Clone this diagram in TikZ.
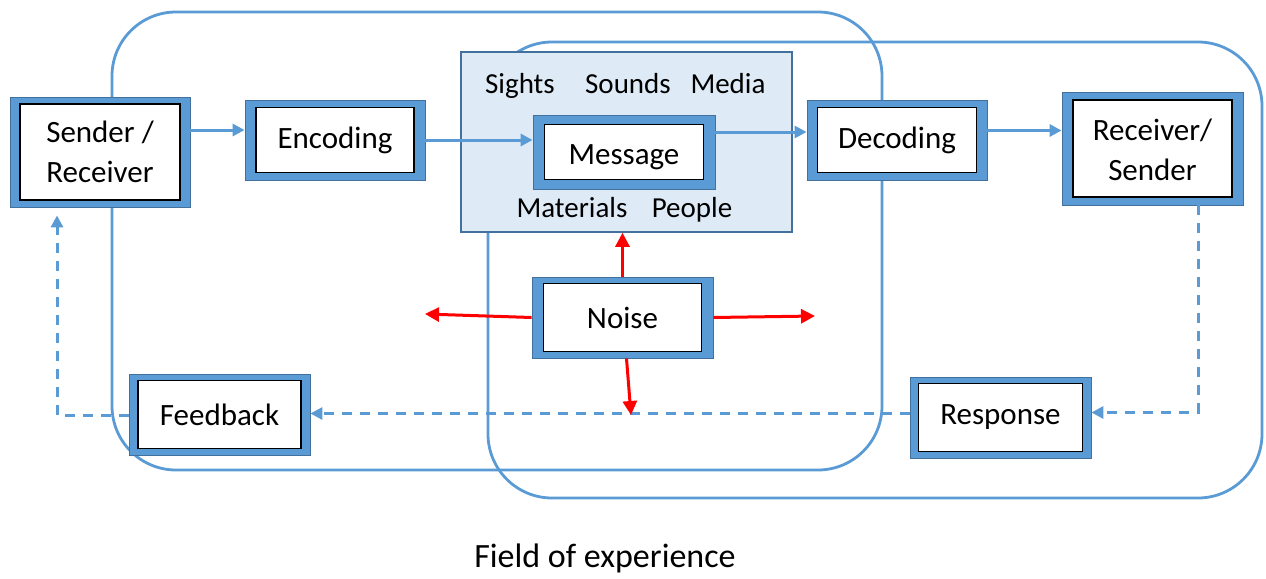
\documentclass[tikz,border=0pt]{standalone}
\usepackage{fontspec}
\setmainfont{Carlito}
\usetikzlibrary{arrows.meta,calc}
\definecolor{bblue}{HTML}{5B9BD5}
\definecolor{bedge}{HTML}{41719C}
\definecolor{lfill}{HTML}{DEEBF7}
\newcommand\dblbox[8]{%
  \node[outerbox, minimum width=#4, minimum height=#5] (#1) at (#2,#3) {};
  \node[innerbox, minimum width=#6, minimum height=#7] (#1-in) at (#2,#3) {#8};}
\begin{document}
\begin{tikzpicture}[x=0.5pt,y=-0.5pt,
  outerbox/.style={draw=bedge, line width=0.4pt, fill=bblue, inner sep=0pt},
  innerbox/.style={draw=black, line width=0.6pt, fill=white, inner sep=0pt, align=center, font=\fontsize{15.5}{20}\selectfont},
  field/.style={draw=bblue, line width=1.4pt, rounded corners=32pt},
  flow/.style={draw=bblue, line width=1.5pt, -{Triangle[length=6pt,width=6pt]}},
  fb/.style={flow, dash pattern=on 5pt off 4pt},
  noisearrow/.style={draw=red, line width=1.5pt, -{Triangle[length=7pt,width=7pt]}},
  lbl/.style={font=\fontsize{14.5}{17}\selectfont, inner sep=0pt, anchor=base}
]
\useasboundingbox (0,0) rectangle (1266,579);

% fields of experience
\draw[field] (112,12) rectangle (882,470);
\draw[field] (488,42) rectangle (1262,498);

% message area
\node[draw=bedge, fill=lfill, line width=0.8pt, minimum width=165.5pt, minimum height=90pt, inner sep=0pt] (area) at (626.5,142) {};
\node[lbl] (sights) at (520,93) {Sights};
\node[lbl] (sounds) at (628,93) {Sounds};
\node[lbl] (media) at (728,93) {Media};
\node[lbl] (mat) at (572,217) {Materials};
\node[lbl] (ppl) at (692,217) {People};

% boxes
\dblbox{send}{100}{152}{90pt}{55pt}{80pt}{48pt}{Sender /\\Receiver}
\dblbox{enc}{335}{140}{90pt}{40pt}{79pt}{32.5pt}{Encoding}
\dblbox{msg}{624}{152}{91pt}{37pt}{79.5pt}{27.5pt}{\raisebox{-2.5pt}[\height][\depth]{Message}}
\dblbox{dec}{897}{140}{90pt}{40pt}{79.5pt}{32.5pt}{Decoding}
\dblbox{recv}{1152.5}{148.5}{90.5pt}{56.5pt}{79.5pt}{48.5pt}{\raisebox{-2pt}[\height][\depth]{\begin{tabular}{@{}c@{}}Receiver/\\Sender\end{tabular}}}
\dblbox{noise}{622.5}{317.5}{90.5pt}{40.5pt}{79pt}{34pt}{Noise}
\dblbox{fbk}{219.5}{414.5}{90.5pt}{40.5pt}{81.5pt}{34pt}{Feedback}
\dblbox{resp}{1000.5}{417.5}{90.5pt}{40.5pt}{82pt}{34pt}{Response}

% solid flow
\path ([yshift=5pt]enc.west) coordinate (encin);
\draw[flow] (send.east |- encin) -- (encin);
\draw[flow] (enc.east) -- (msg.west |- enc.east);
\path ([yshift=4pt]dec.west) coordinate (decin);
\draw[flow] (msg.east |- decin) -- (decin);
\path ([yshift=9pt]recv.west) coordinate (recvin);
\draw[flow] (dec.east |- recvin) -- (recvin);

% feedback loop
\coordinate (rx) at (1198,0);
\coordinate (lx) at (57,0);
\path ([yshift=2.5pt]resp.east) coordinate (respin);
\draw[fb] (recv.south -| rx) |- (respin);
\path ([yshift=2pt]resp.west) coordinate (respout);
\draw[fb] (respout) -- (respout -| fbk.east);
\draw[fb, shorten >=4pt] ([yshift=-0.5pt]fbk.west) -| (send.south -| lx);

% noise
\draw[noisearrow] (noise.north) -- (noise.north |- area.south);
\coordinate (nl) at (425,314);
\coordinate (nr) at (815,316);
\coordinate (nd) at (631,415);
\draw[noisearrow] (noise.west) -- (nl);
\draw[noisearrow] (noise.east) -- (nr);
\draw[noisearrow] ([xshift=2pt]noise.south) -- (nd);

\node[font=\fontsize{17}{20}\selectfont] (fieldlbl) at (605,558) {Field of experience};
\end{tikzpicture}
\end{document}
